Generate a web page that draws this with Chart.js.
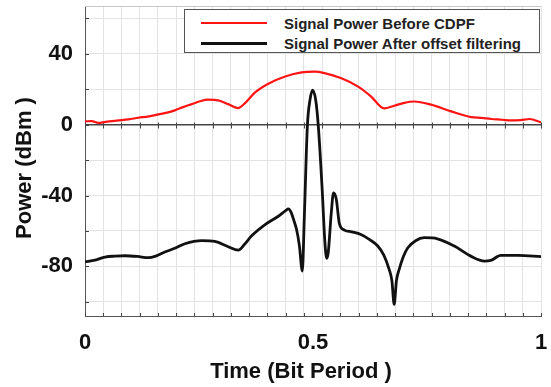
<!DOCTYPE html>
<html>
<head>
<meta charset="utf-8">
<script src="https://cdn.jsdelivr.net/npm/chart.js@4/dist/chart.umd.min.js"></script>
<style>
  html, body { margin: 0; padding: 0; background: #fff; }
  #wrap { position: relative; width: 551px; height: 387px; }
  #legend {
    position: absolute; left: 184px; top: 9px; width: 354px; height: 42px;
    border: 1px solid #555; background: #fff;
    font: bold 15px "Liberation Sans", Arial, sans-serif; color: #222;
  }
  #legend .row { position: absolute; left: 0; height: 20px; display: flex; align-items: center; white-space: nowrap; }
  #legend .line { display: inline-block; width: 66px; margin-left: 16px; margin-right: 17px; }
</style>
</head>
<body>
<div id="wrap">
  <canvas id="powerChart" width="551" height="387"></canvas>
  <div id="legend">
    <div class="row" style="top:3px"><span class="line" style="height:2px;background:#ff1414"></span>Signal Power Before CDPF</div>
    <div class="row" style="top:23px"><span class="line" style="height:3px;background:#111"></span>Signal Power After offset filtering</div>
  </div>
</div>
<script>
// values
const redTime = [0, 0.015, 0.029, 0.045, 0.073, 0.095, 0.117, 0.14, 0.161, 0.18, 0.197, 0.215, 0.234, 0.252,
  0.27, 0.292, 0.314, 0.335, 0.351, 0.373, 0.402, 0.439, 0.475, 0.504, 0.525, 0.561, 0.598, 0.627, 0.656,
  0.678, 0.7, 0.722, 0.759, 0.803, 0.847, 0.87, 0.891, 0.915, 0.934, 0.955, 0.975, 1.0];
const redPower = [1.9, 2.0, 1.0, 1.6, 2.4, 3.0, 3.9, 4.7, 5.8, 6.8, 8.1, 9.9, 11.6, 13.2,
  14.1, 13.7, 11.6, 9.4, 12.2, 18.2, 23.1, 27.2, 29.5, 29.9, 29.1, 26.3, 21.6, 16.0, 9.2,
  10.7, 12.3, 13.1, 11.3, 7.5, 4.3, 3.8, 3.2, 2.8, 2.4, 2.6, 3.2, 1.3];

const blackTime = [0, 0.022, 0.044, 0.066, 0.088, 0.115, 0.139, 0.155, 0.175, 0.197, 0.219, 0.256, 0.285,
  0.314, 0.336, 0.35, 0.365, 0.398, 0.424, 0.44, 0.446, 0.452, 0.458, 0.464, 0.47, 0.4766, 0.481, 0.4876,
  0.4934, 0.499, 0.5059, 0.5117, 0.52, 0.526, 0.53, 0.5335, 0.54, 0.545, 0.551, 0.558, 0.569, 0.585, 0.605,
  0.625, 0.642, 0.655, 0.667, 0.673, 0.678, 0.683, 0.689, 0.698, 0.708, 0.725, 0.744, 0.773, 0.81, 0.846,
  0.876, 0.89, 0.912, 0.95, 1.0];
const blackPower = [-77.4, -76.5, -74.7, -74.2, -74.0, -74.4, -75.1, -74.2, -71.9, -69.8, -67.2, -65.4, -65.9,
  -68.9, -70.8, -67.5, -62.9, -55.9, -51.7, -48.5, -47.5, -49.5, -54, -59.2, -68, -82.6, -52, -1,
  14, 19.5, 14, -1, -36, -66, -75.4, -72, -50, -38.5, -42, -56, -59.5, -60.5, -62,
  -65, -68.5, -73.5, -81.7, -88, -101.4, -88, -81.7, -74.5, -69.5, -65.5, -63.8, -64.4, -68.5, -74.2,
  -77, -76.6, -73.8, -73.8, -74.5];

const xTickLabels = [0, 0.5, 1];
const xGridStep = 0.04;
const yTickLabels = [40, 0, -40, -80];
const yGridValues = [60, 40, 20, 0, -20, -40, -60, -80, -100];
const xTitle = 'Time (Bit Period )';
const yTitle = 'Power (dBm )';

const labelFont = { family: '"Liberation Sans", Arial, sans-serif', size: 22, weight: 'bold' };

function toPoints(xs, ys) {
  return xs.map((x, i) => ({ x: x, y: ys[i] }));
}

function xGridValues() {
  const vals = [];
  for (let i = 0; i <= Math.round(1 / xGridStep); i++) vals.push(Math.round(i * xGridStep * 100) / 100);
  vals.push(0.5);
  return vals.sort((a, b) => a - b);
}

// small tick marks along the axes and the zero line, top border
const axisMarks = {
  id: 'axisMarks',
  beforeDatasetsDraw(chart) {
    const { ctx, chartArea: a, scales: { x, y } } = chart;
    const seg = (x1, y1, x2, y2) => { ctx.beginPath(); ctx.moveTo(x1, y1); ctx.lineTo(x2, y2); ctx.stroke(); };
    ctx.save();
    ctx.lineWidth = 1;
    ctx.strokeStyle = '#c8c8c8';
    seg(a.left, a.top + 0.5, a.right, a.top + 0.5);
    ctx.strokeStyle = '#444';
    const y0 = Math.round(y.getPixelForValue(0)) + 0.5;
    x.ticks.forEach((t) => {
      if (t.value === 0.5) return;
      const px = Math.round(x.getPixelForValue(t.value)) + 0.5;
      seg(px, y0 - 3, px, y0 + 3);
      seg(px, a.bottom - 3, px, a.bottom);
    });
    y.ticks.forEach((t) => {
      const py = Math.round(y.getPixelForValue(t.value)) + 0.5;
      seg(a.left, py, a.left + 4, py);
    });
    ctx.restore();
  },
};

// axis titles, placed a little off-centre like the original figure
const axisTitles = {
  id: 'axisTitles',
  afterDraw(chart) {
    const { ctx, chartArea: a } = chart;
    ctx.save();
    ctx.font = `bold ${labelFont.size}px ${labelFont.family}`;
    ctx.fillStyle = '#111';
    ctx.textAlign = 'center';
    ctx.textBaseline = 'middle';
    ctx.fillText(xTitle, (a.left + a.right) / 2 - 12, 372);
    ctx.translate(25, (a.top + a.bottom) / 2 + 7);
    ctx.rotate(-Math.PI / 2);
    ctx.fillText(yTitle, 0, 0);
    ctx.restore();
  },
};

new Chart(document.getElementById('powerChart').getContext('2d'), {
  type: 'line',
  data: {
    datasets: [
      {
        label: 'Signal Power Before CDPF',
        data: toPoints(redTime, redPower),
        borderColor: '#ff1414',
        borderWidth: 2.2,
        cubicInterpolationMode: 'monotone',
        pointRadius: 0,
        fill: false,
      },
      {
        label: 'Signal Power After offset filtering',
        data: toPoints(blackTime, blackPower),
        borderColor: '#111',
        borderWidth: 2.8,
        cubicInterpolationMode: 'monotone',
        pointRadius: 0,
        fill: false,
      },
    ],
  },
  options: {
    responsive: false,
    animation: false,
    layout: { padding: { top: 6, right: 10, left: 0, bottom: 0 } },
    plugins: { legend: { display: false }, tooltip: { enabled: false } },
    scales: {
      x: {
        type: 'linear',
        min: 0,
        max: 1,
        afterBuildTicks: (s) => { s.ticks = xGridValues().map((v) => ({ value: v })); },
        afterFit: (s) => {
          s.height = 71;
          s.paddingLeft = 0;
          s.paddingRight = 0;
        },
        grid: {
          drawTicks: false,
          color: (c) => (c.tick && c.tick.value === 0.5 ? 'rgba(0,0,0,0)' : '#e3e3e3'),
        },
        border: { color: '#555' },
        ticks: {
          autoSkip: false,
          maxRotation: 0,
          padding: 14,
          color: '#111',
          font: labelFont,
          callback: (v) => (xTickLabels.includes(v) ? String(v) : ''),
        },
        title: { display: false },
      },
      y: {
        min: -108,
        max: 67,
        afterBuildTicks: (s) => { s.ticks = yGridValues.map((v) => ({ value: v })); },
        afterFit: (s) => {
          s.width = 85;
          s.paddingTop = 0;
          s.paddingBottom = 0;
        },
        grid: {
          drawTicks: false,
          color: (c) => (c.tick && c.tick.value === 0 ? '#444' : '#e3e3e3'),
          lineWidth: (c) => (c.tick && c.tick.value === 0 ? 1.5 : 1),
        },
        border: { color: '#555' },
        ticks: {
          autoSkip: false,
          padding: 12,
          color: '#111',
          font: labelFont,
          callback: (v) => (yTickLabels.includes(v) ? String(v) : ''),
        },
        title: { display: false },
      },
    },
  },
  plugins: [axisMarks, axisTitles],
});
</script>
</body>
</html>
